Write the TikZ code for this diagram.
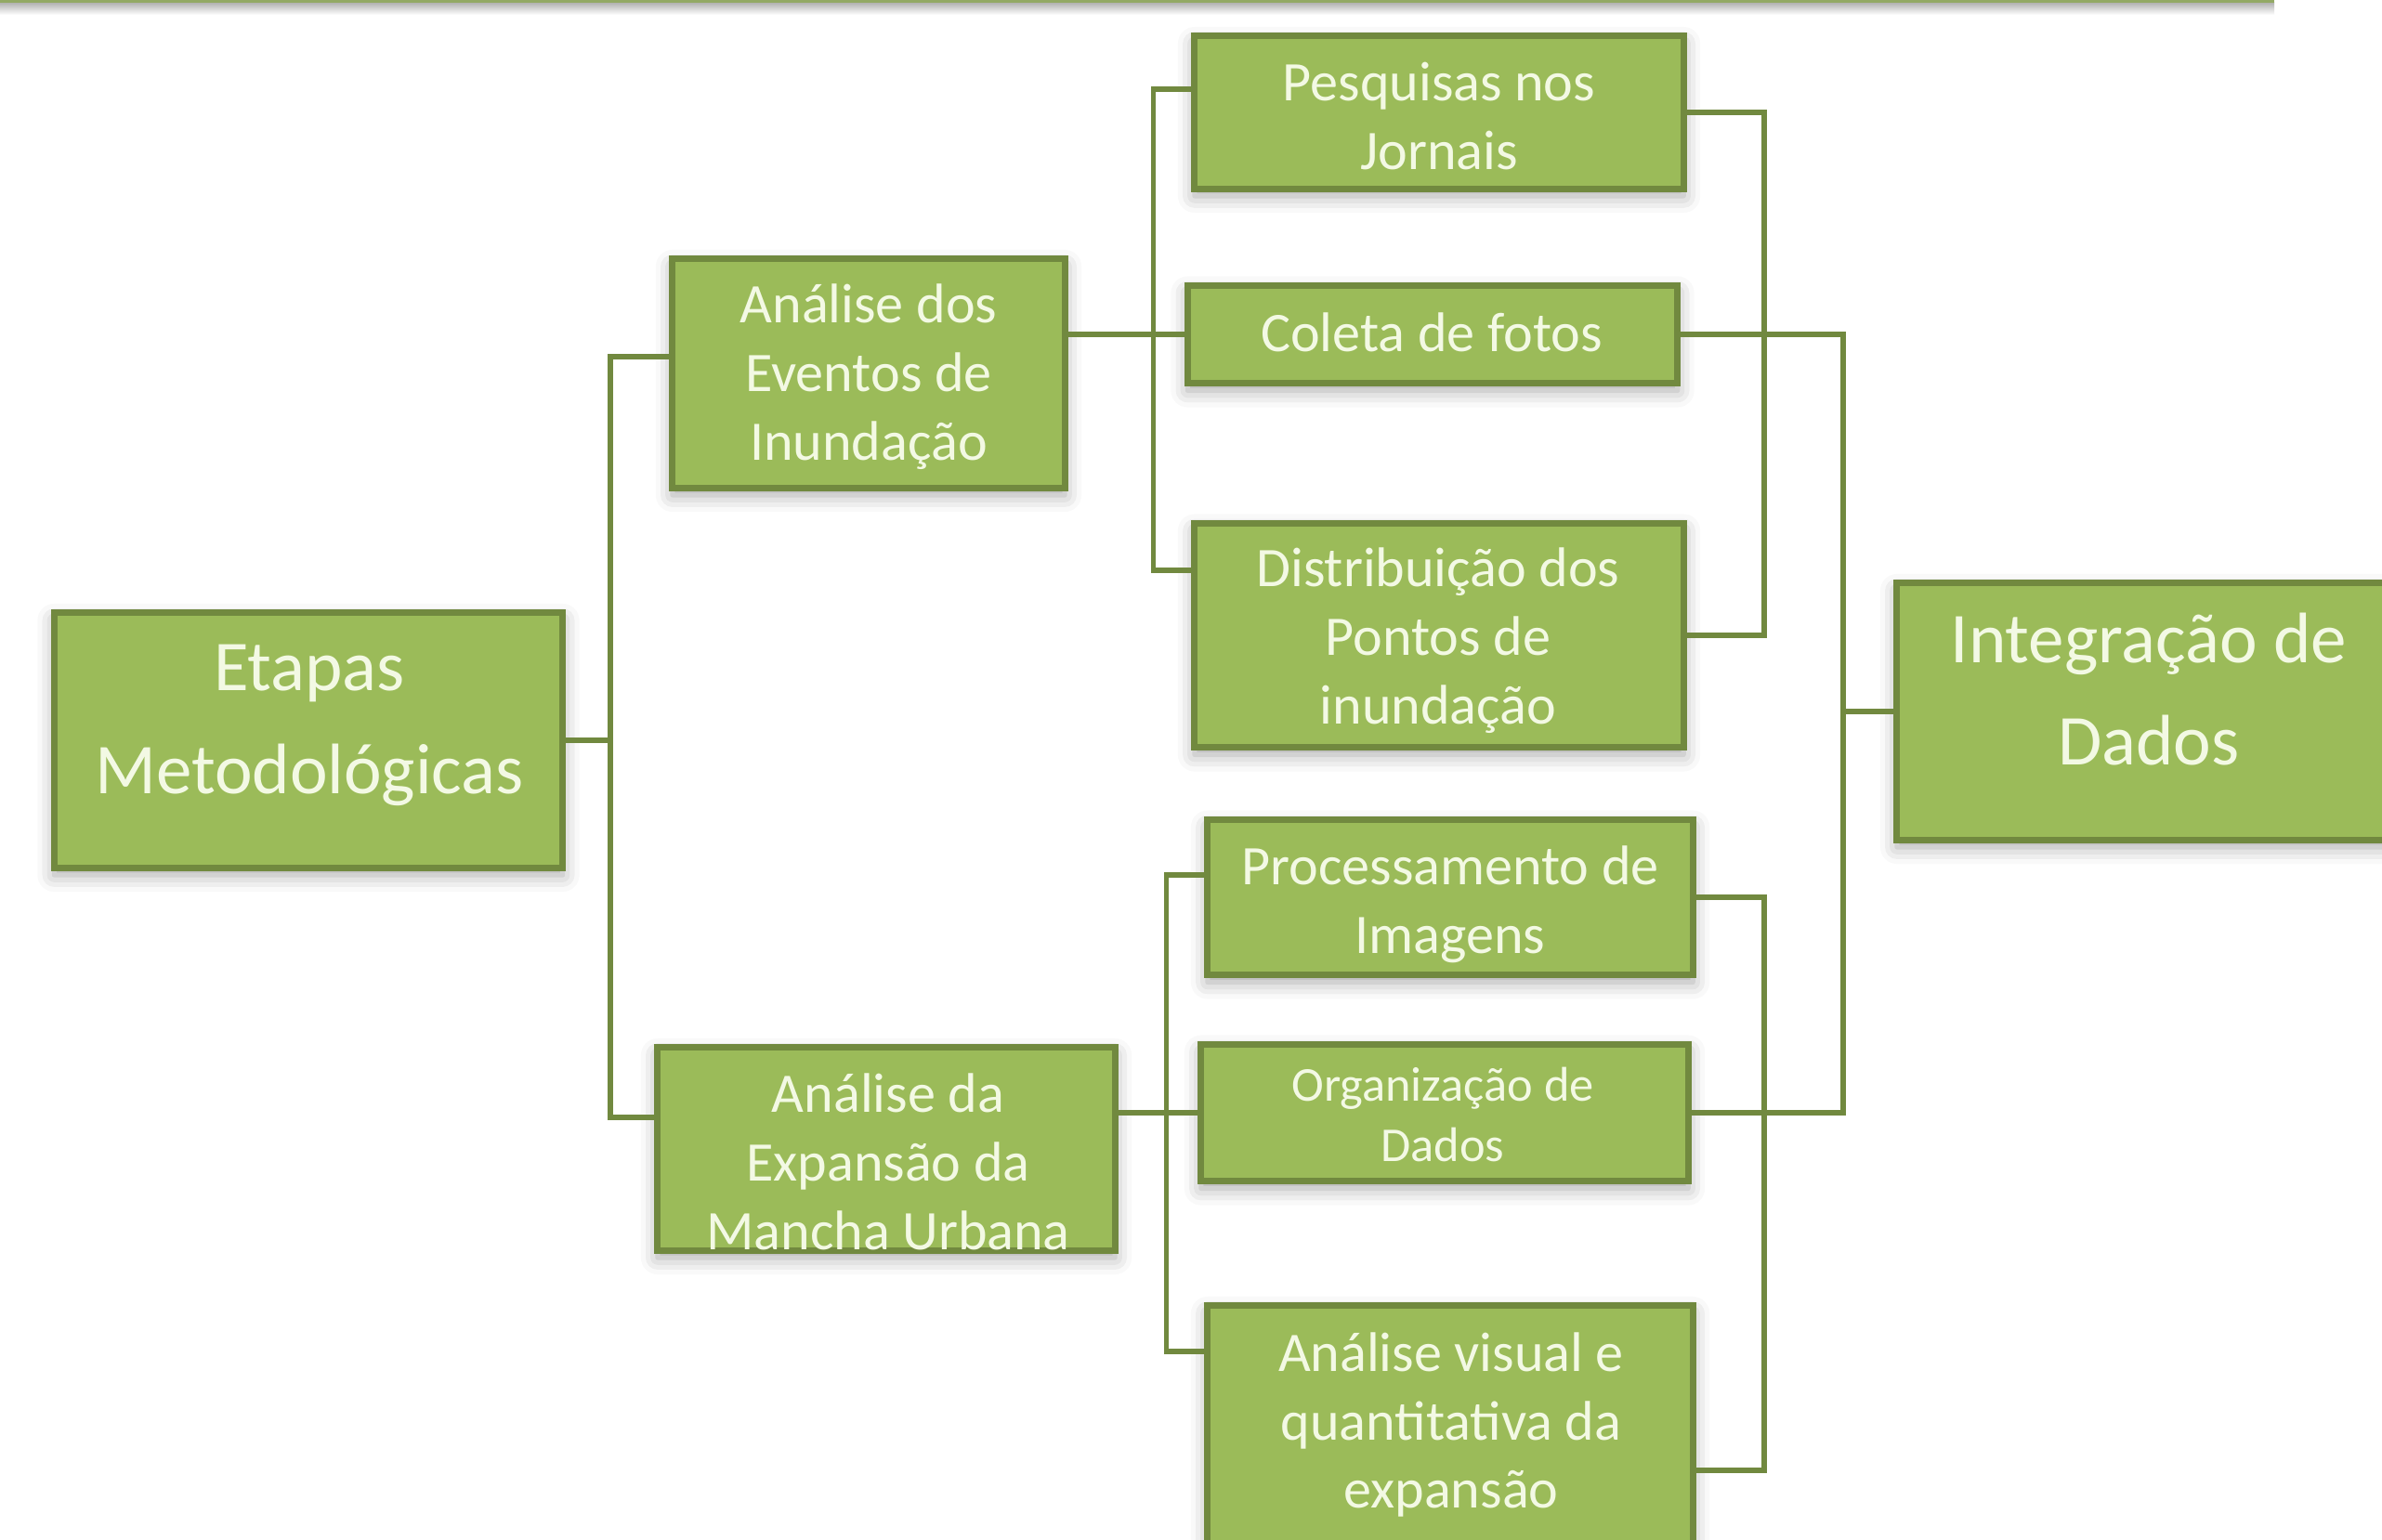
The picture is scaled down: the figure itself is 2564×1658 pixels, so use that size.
\documentclass[tikz,border=0pt]{standalone}
\usepackage{fontspec}
\setmainfont{Carlito}
\usetikzlibrary{positioning,shadows.blur}
\definecolor{boxfill}{HTML}{9BBB59}
\definecolor{boxline}{HTML}{71893F}
\definecolor{boxtext}{HTML}{F3F9E4}
\tikzset{
    caixa/.style={rectangle, draw=boxline, fill=boxfill, line width=2pt, inner sep=0pt,
      blur shadow={shadow xshift=0pt, shadow yshift=-0.8mm, shadow blur radius=1.8mm, shadow opacity=35}},
    rotulo/.style={text=boxtext, align=center, inner sep=0pt},
    grande/.style={rotulo, font=\fontsize{21.9}{31.5}\selectfont},
    media/.style={rotulo, font=\fontsize{17.1}{21}\selectfont},
    pequena/.style={rotulo, font=\fontsize{14.9}{18.5}\selectfont},
    liga/.style={draw=boxline, line width=1.6pt}
}

\begin{document}
\begin{tikzpicture}[x=0.01cm, y=-0.01cm]
    \useasboundingbox (0,0) rectangle (2564,1658);
    \clip (0,0) rectangle (2564,1658);
    % faixa do topo
    \shade[top color=black!30, bottom color=white] (0,3) rectangle (2448,16);
    \draw[line width=1pt, color=boxfill!70!gray] (0,1) -- (2448,1);

    % caixas
    \node[caixa, minimum width=5.47cm, minimum height=2.74cm] (etapas) at (332,797) {};
    \node[caixa, minimum width=4.22cm, minimum height=2.46cm] (eventos) at (935,402) {};
    \node[caixa, minimum width=4.92cm, minimum height=2.18cm] (expansao) at (954,1237) {};
    \node[caixa, minimum width=5.26cm, minimum height=1.64cm] (pesquisas) at (1549,121) {};
    \node[caixa, minimum width=5.27cm, minimum height=1.05cm] (coleta) at (1542,360) {};
    \node[caixa, minimum width=5.26cm, minimum height=2.41cm] (distrib) at (1549,684) {};
    \node[caixa, minimum width=5.22cm, minimum height=1.67cm] (processo) at (1561,966) {};
    \node[caixa, minimum width=5.24cm, minimum height=1.47cm] (organiza) at (1555,1198) {};
    \node[caixa, minimum width=5.22cm, minimum height=2.84cm] (visual) at (1561,1548) {};
    \node[caixa, minimum width=5.54cm, minimum height=2.76cm] (integra) at (2319,766) {};

    % textos
    \node[grande] (etapas-t) at (333,781) {Etapas\\Metodológicas};
    \node[media] (eventos-t) at (935,406) {Análise dos\\Eventos de\\Inundação};
    \node[media] (expansao-t) at (956,1251) {Análise da\\Expansão da\\Mancha Urbana};
    \node[media] (pesquisas-t) at (1549,125) {Pesquisas nos\\Jornais};
    \node[media] (coleta-t) at (1541,358) {Coleta de fotos};
    \node[media] (distrib-t) at (1548,690) {Distribuição dos\\Pontos de\\inundação};
    \node[media] (processo-t) at (1561,974) {Processamento de\\Imagens};
    \node[pequena] (organiza-t) at (1553,1200) {Organização de\\Dados};
    \node[media] (visual-t) at (1562,1534) {Análise visual e\\quantitativa da\\expansão};
    \node[grande] (integra-t) at (2313,742) {Integração de\\Dados};

    % ligacoes da esquerda
    \draw[liga] (etapas.east) -- ++(48,0) coordinate (t1);
    \draw[liga] ([yshift=1.8mm]eventos.west) -| (t1) |- ([yshift=3.4mm]expansao.west);

    \draw[liga] (eventos.east |- coleta.west) -- (coleta.west);
    \draw[liga] ([yshift=2.5mm]pesquisas.west) -- ++(-41,0) |- ([yshift=7mm]distrib.west);
    \draw[liga] (expansao.east |- organiza.west) -- (organiza.west);
    \draw[liga] ([yshift=2.4mm]processo.west) -- ++(-41,0) |- ([yshift=9.3mm]visual.west);

    % ligacoes da direita
    \draw[liga] (pesquisas.east) -- ++(83,0) |- (distrib.east);
    \draw[liga] (processo.east) -- ++(73,0) |- ([yshift=-3.5mm]visual.east);
    \draw[liga] (coleta.east) -- ++(175,0) coordinate (t3) |- (organiza.east);
    \draw[liga] (t3 |- integra.west) -- (integra.west);
\end{tikzpicture}
\end{document}
